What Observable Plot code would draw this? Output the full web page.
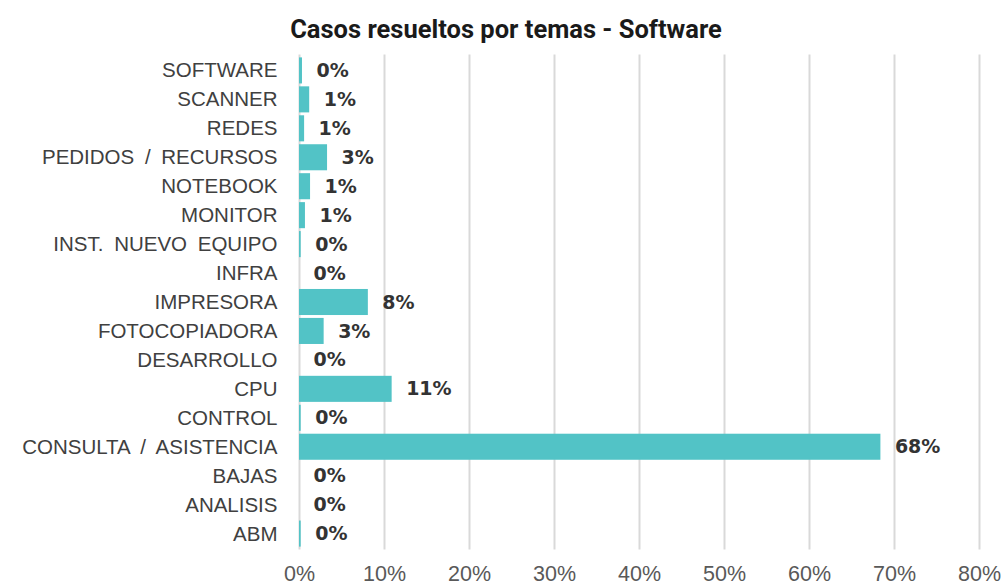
<!DOCTYPE html>
<html><head><meta charset="utf-8">
<script src="https://cdn.jsdelivr.net/npm/d3@7"></script>
<script src="https://cdn.jsdelivr.net/npm/@observablehq/plot@0.6"></script>
<style>
body{margin:0;background:#fff;}
#title{height:45px;width:1004px;text-align:center;font-family:Roboto,"Liberation Sans",sans-serif;font-weight:700;font-size:25.5px;line-height:58px;color:#1a1a1a;box-sizing:border-box;padding-left:8px;}
svg{display:block;}
svg [aria-label="y-axis tick label"] text{word-spacing:5px;}
</style></head><body>
<div id="title">Casos resueltos por temas - Software</div>
<div id="chart"></div>
<script>
const categories = ["SOFTWARE","SCANNER","REDES","PEDIDOS / RECURSOS","NOTEBOOK","MONITOR","INST. NUEVO EQUIPO","INFRA","IMPRESORA","FOTOCOPIADORA","DESARROLLO","CPU","CONTROL","CONSULTA / ASISTENCIA","BAJAS","ANALISIS","ABM"];
const values = [0.35,1.2,0.6,3.3,1.3,0.7,0.2,0,8.1,2.9,0,10.9,0.2,68.4,0,0,0.2];
const labels = ["0%","1%","1%","3%","1%","1%","0%","0%","8%","3%","0%","11%","0%","68%","0%","0%","0%"];
const xTicks = [0,10,20,30,40,50,60,70,80];

const data = categories.map((c,i)=>({cat:c, v:values[i], lab:labels[i]}));

const chart = Plot.plot({
  width:1004, height:541,
  marginLeft:299, marginRight:25, marginTop:9.5, marginBottom:36.5,
  style:{background:"#fff"},
  x:{domain:[0,80], ticks:xTicks},
  y:{domain:categories, padding:0.1, round:false},
  marks:[
    Plot.gridX(xTicks,{stroke:"#d9d9d9", strokeOpacity:1, strokeWidth:2}),
    Plot.barX(data,{x:"v", y:"cat", fill:"#52c3c6"}),
    Plot.text(data,{x:"v", y:"cat", text:"lab", dx:14, textAnchor:"start", fill:"#333", fontWeight:"bold", fontSize:19, fontFamily:"'DejaVu Sans',sans-serif"}),
    Plot.axisX({ticks:xTicks, tickSize:0, tickPadding:16, tickFormat:d=>d+"%", fontSize:21.5, fill:"#595959", fontFamily:"'Liberation Sans',Arial,sans-serif", label:null}),
    Plot.axisY({tickSize:0, tickPadding:22, fontSize:20.5, fill:"#404040", fontFamily:"'Liberation Sans',Arial,sans-serif", label:null})
  ]
});
document.getElementById("chart").appendChild(chart);
</script>
</body></html>
